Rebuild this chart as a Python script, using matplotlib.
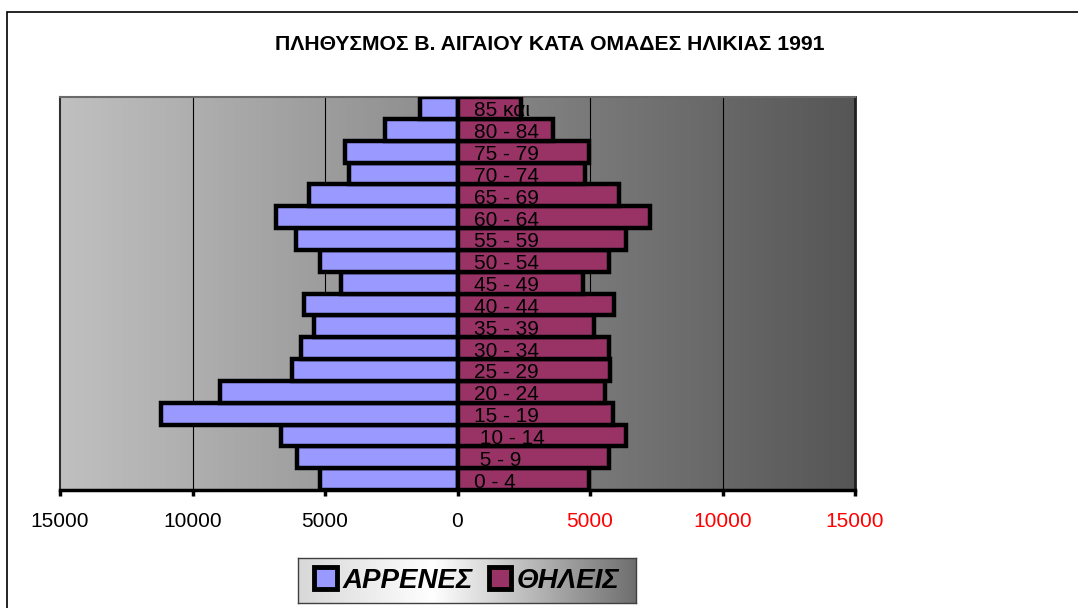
import numpy as np
import matplotlib
matplotlib.use('Agg')
import matplotlib.pyplot as plt
from matplotlib.patches import Patch, Rectangle
from matplotlib.colors import LinearSegmentedColormap

plt.rcParams['font.family'] = ['Liberation Sans', 'DejaVu Sans']

# age groups, bottom to top
ages = ['0 - 4', ' 5 - 9', ' 10 - 14', '15 - 19', '20 - 24', '25 - 29',
        '30 - 34', '35 - 39', '40 - 44', '45 - 49', '50 - 54', '55 - 59',
        '60 - 64', '65 - 69', '70 - 74', '75 - 79', '80 - 84', '85 και']
males = [5200, 6050, 6650, 11200, 8950, 6250, 5900, 5400, 5800, 4400,
         5200, 6100, 6850, 5600, 4100, 4250, 2750, 1400]
females = [4950, 5700, 6350, 5850, 5550, 5750, 5700, 5150, 5900, 4750,
           5700, 6350, 7250, 6100, 4800, 4950, 3600, 2400]
xticks = [-15000, -10000, -5000, 0, 5000, 10000, 15000]
title = 'ΠΛΗΘΥΣΜΟΣ Β. ΑΙΓΑΙΟΥ ΚΑΤΑ ΟΜΑΔΕΣ ΗΛΙΚΙΑΣ 1991'
series_names = ['ΑΡΡΕΝΕΣ', 'ΘΗΛΕΙΣ']
male_color = '#9999FF'
female_color = '#993366'

W, H = 1078, 608
fig = plt.figure(figsize=(W / 100, H / 100), dpi=100)

# outer chart border (runs off the right and bottom edges)
fig.add_artist(Rectangle((7 / W, -0.1), 1.2, 1 - 12 / H + 0.1,
                         transform=fig.transFigure, fill=False,
                         edgecolor='black', linewidth=1.2))

fig.text(550 / W, 1 - 45 / H, title, ha='center', va='center',
         fontsize=15.2, fontweight='bold')

ax = fig.add_axes([60 / W, 1 - 490 / H, 795 / W, 393 / H])
y = np.arange(len(ages))

# plot area gradient
grad = LinearSegmentedColormap.from_list('bg', ['#c0c0c0', '#565656'])
ax.imshow(np.linspace(0, 1, 256).reshape(1, -1), cmap=grad, aspect='auto',
          extent=[-15000, 15000, -0.5, len(ages) - 0.5], zorder=0)

ax.barh(y, -np.array(males), height=1.0, color=male_color,
        edgecolor='black', linewidth=3.2, zorder=3)
ax.barh(y, females, height=1.0, color=female_color,
        edgecolor='black', linewidth=3.2, zorder=3)

for yi, lab in zip(y, ages):
    ax.annotate(lab, xy=(0, yi), xytext=(11.6, -2.2), textcoords='offset points',
                va='center', ha='left', fontsize=15, zorder=5)

ax.set_xlim(-15000, 15000)
ax.set_ylim(-0.5, len(ages) - 0.5)
ax.set_yticks([])
ax.set_xticks(xticks)
ax.set_xticklabels([str(abs(t)) for t in xticks], fontsize=15)
for t, lab in zip(xticks, ax.get_xticklabels()):
    lab.set_color('red' if t > 0 else 'black')
ax.tick_params(axis='x', direction='out', length=4, width=2.5, pad=12)
for gx in [-10000, -5000, 5000, 10000]:
    ax.axvline(gx, color='black', linewidth=0.8, zorder=1)

ax.spines['bottom'].set_linewidth(2.5)
ax.spines['top'].set_color('#6a6a6a')
ax.spines['top'].set_linewidth(1.5)
ax.spines['left'].set_color('#303030')
ax.spines['left'].set_linewidth(1.5)
ax.spines['right'].set_color('#202020')
ax.spines['right'].set_linewidth(2)

# legend box with its own gradient
lax = fig.add_axes([298 / W, 1 - 603 / H, 338 / W, 45 / H])
lgrad = LinearSegmentedColormap.from_list(
    'lg', [(0, '#d8d8d8'), (0.4, '#ffffff'), (1, '#6e6e6e')])
lax.imshow(np.linspace(0, 1, 256).reshape(1, -1), cmap=lgrad, aspect='auto',
           extent=[0, 1, 0, 1])
lax.set_xticks([])
lax.set_yticks([])
for s in lax.spines.values():
    s.set_color('#404040')
    s.set_linewidth(1)
handles = [Patch(facecolor=male_color, edgecolor='black', linewidth=3.5,
                 joinstyle='round'),
           Patch(facecolor=female_color, edgecolor='black', linewidth=3.5,
                 joinstyle='round')]
lax.legend(handles, series_names, loc='center', ncol=2, frameon=False,
           prop={'size': 20, 'weight': 'bold', 'style': 'italic'},
           handlelength=0.8, handleheight=0.8, handletextpad=0.2,
           columnspacing=0.6, borderpad=0)

fig.savefig('out.png', dpi=100)
